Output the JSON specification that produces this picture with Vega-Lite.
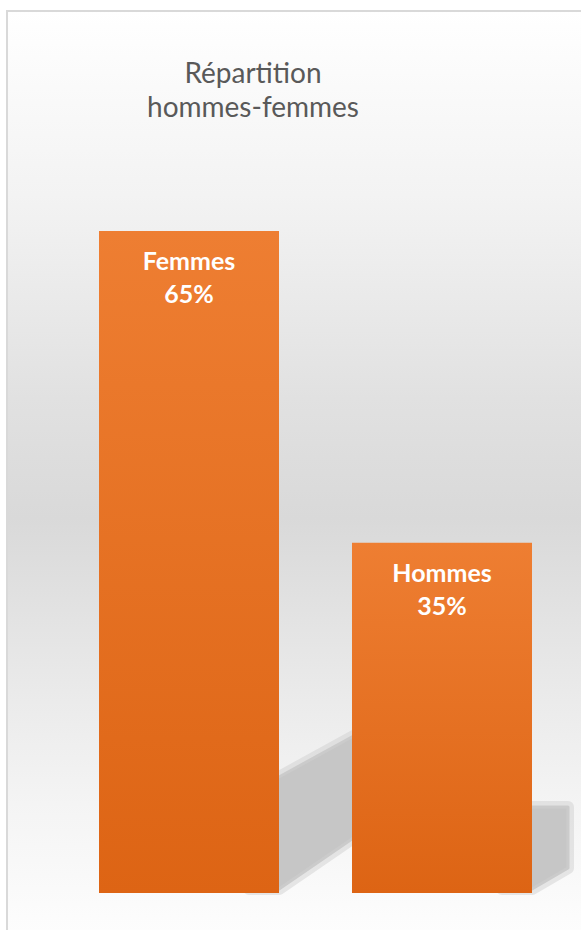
{
  "$schema": "https://vega.github.io/schema/vega-lite/v6.json",
  "width": 576,
  "height": 921,
  "autosize": {"type": "none"},
  "padding": {"left": 7, "top": 11, "right": -2, "bottom": -2},
  "background": "#ffffff",
  "title": {
    "text": ["Répartition", "hommes-femmes"],
    "font": "Lato",
    "fontSize": 28,
    "fontWeight": "normal",
    "color": "#595959",
    "anchor": "middle",
    "frame": "group",
    "orient": "top",
    "baseline": "top",
    "offset": -112,
    "dx": -42,
    "lineHeight": 34
  },
  "config": {
    "view": {
      "fill": {
        "gradient": "linear",
        "x1": 0, "y1": 0, "x2": 0, "y2": 1,
        "stops": [
          {"offset": 0, "color": "#ffffff"},
          {"offset": 0.2, "color": "#f3f3f3"},
          {"offset": 0.42, "color": "#e1e1e1"},
          {"offset": 0.55, "color": "#d9d9d9"},
          {"offset": 0.75, "color": "#ebebeb"},
          {"offset": 0.86, "color": "#f4f4f4"},
          {"offset": 1, "color": "#fdfdfd"}
        ]
      },
      "stroke": "#d9d9d9",
      "strokeWidth": 2
    }
  },
  "data": {
    "values": [
      {"genre": "Femmes", "part": 0.654},
      {"genre": "Hommes", "part": 0.346}
    ]
  },
  "encoding": {
    "x": {
      "field": "genre",
      "type": "nominal",
      "sort": ["Femmes", "Hommes"],
      "scale": {"range": [92, 525], "paddingInner": 0.2885, "paddingOuter": 0},
      "axis": null
    }
  },
  "layer": [
    {
      "mark": {
        "type": "point",
        "filled": true,
        "size": 4,
        "fill": "#cdcdcd",
        "opacity": 0.45,
        "stroke": "#cdcdcd",
        "strokeWidth": 12,
        "strokeJoin": "round"
      },
      "encoding": {
        "y": {
          "datum": 0,
          "type": "quantitative",
          "scale": {"domain": [-0.03853, 0.8714], "nice": false, "zero": false},
          "axis": null
        },
        "shape": {
          "field": "genre",
          "type": "nominal",
          "scale": {
            "domain": ["Femmes", "Hommes"],
            "range": [
              "M60,-100L90,-116L181,-166L230,-166L230,-100L90,-4L60,-4Z",
              "M60,-70L70,-86L126,-86L126,-25L90,-4L60,-4Z"
            ]
          },
          "legend": null
        }
      }
    },
    {
      "mark": {
        "type": "point",
        "filled": true,
        "size": 4,
        "fill": "#c6c6c6",
        "opacity": 1,
        "stroke": "#cbcbcb",
        "strokeWidth": 3,
        "strokeJoin": "round"
      },
      "encoding": {
        "y": {"datum": 0, "type": "quantitative"},
        "shape": {"field": "genre", "type": "nominal"}
      }
    },
    {
      "mark": {
        "type": "bar",
        "fill": {
          "gradient": "linear",
          "x1": 0, "y1": 0, "x2": 0, "y2": 1,
          "stops": [
            {"offset": 0, "color": "#ee7e32"},
            {"offset": 1, "color": "#dd6414"}
          ]
        }
      },
      "encoding": {
        "y": {"field": "part", "type": "quantitative"},
        "y2": {"datum": 0}
      }
    },
    {
      "mark": {
        "type": "text",
        "font": "Lato",
        "fontWeight": "bold",
        "fontSize": 25,
        "color": "#ffffff",
        "baseline": "alphabetic",
        "dy": 39
      },
      "encoding": {
        "y": {"field": "part", "type": "quantitative"},
        "text": {"field": "genre", "type": "nominal"}
      }
    },
    {
      "mark": {
        "type": "text",
        "font": "Lato",
        "fontWeight": "bold",
        "fontSize": 25,
        "color": "#ffffff",
        "baseline": "alphabetic",
        "dy": 72
      },
      "encoding": {
        "y": {"field": "part", "type": "quantitative"},
        "text": {"field": "part", "type": "quantitative", "format": ".0%"}
      }
    }
  ]
}
